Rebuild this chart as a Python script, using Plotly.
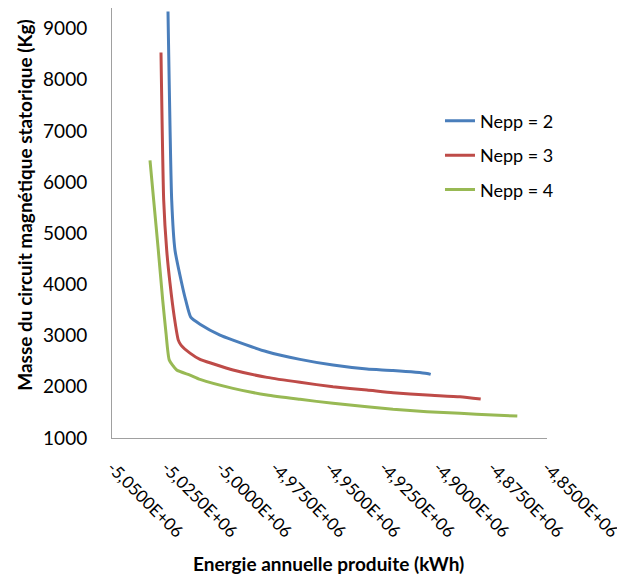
import plotly.graph_objects as go

# Energie annuelle produite (kWh) and mass (Kg) per series
x_nepp2 = [-5024253, -5022552, -5021034, -5017954, -5016115, -5013816, -5009540,
           -5000345, -4994368, -4978736, -4963563, -4948391, -4932759, -4920805,
           -4905172, -4903471]
y_nepp2 = [9332, 5644, 4668, 4024, 3693, 3361, 3224, 3010, 2912, 2684, 2536,
           2424, 2346, 2320, 2262, 2243]

x_nepp3 = [-5027471, -5026230, -5024851, -5023333, -5021356, -5019517, -5018276, -5014138,
           -5009540, -5003563, -4994368, -4978736, -4963563, -4948391, -4932759, -4920805,
           -4905172, -4890000, -4880483]
y_nepp3 = [8532, 5644, 4668, 4024, 3361, 2912, 2815, 2659, 2536, 2450, 2327, 2184, 2087,
           2001, 1937, 1884, 1839, 1806, 1761]

x_nepp4 = [-5032529, -5030828, -5028713, -5026690, -5025172, -5023655, -5020253, -5014138,
           -5009540, -4994368, -4978736, -4963563, -4948391, -4932759, -4920805, -4905172,
           -4890000, -4874828, -4863655]
y_nepp4 = [6424, 5644, 4668, 3693, 3049, 2522, 2327, 2229, 2145, 1970, 1839, 1755, 1677,
           1611, 1560, 1513, 1482, 1449, 1429]

series_names = ["Nepp = 2", "Nepp = 3", "Nepp = 4"]
series_colors = ["#4A7EBB", "#BE4B48", "#98B954"]

x_tick_vals = [-5050000, -5025000, -5000000, -4975000, -4950000, -4925000, -4900000,
               -4875000, -4850000]
x_tick_labels = ["-5,0500E+06", "-5,0250E+06", "-5,0000E+06", "-4,9750E+06", "-4,9500E+06",
                 "-4,9250E+06", "-4,9000E+06", "-4,8750E+06", "-4,8500E+06"]
y_tick_vals = [1000, 2000, 3000, 4000, 5000, 6000, 7000, 8000, 9000]

FONT = "Lato, Carlito, Calibri, sans-serif"

fig = go.Figure()
for xs, ys, name, color in zip([x_nepp2, x_nepp3, x_nepp4], [y_nepp2, y_nepp3, y_nepp4],
                               series_names, series_colors):
    fig.add_trace(go.Scatter(x=xs, y=ys, mode="lines", name=name, legendgroup=name,
                             line=dict(color=color, width=3, shape="spline", smoothing=0.5)))

fig.update_layout(
    width=617, height=571,
    margin=dict(l=104, r=78, t=0, b=141, autoexpand=False),
    paper_bgcolor="white", plot_bgcolor="white",
    font=dict(family=FONT, size=18, color="black"),
    legend=dict(x=0.754, y=0.78, xanchor="left", yanchor="top",
                font=dict(family=FONT, size=18), tracegroupgap=8,
                bgcolor="rgba(0,0,0,0)", itemwidth=30),
    showlegend=True,
    annotations=[
        dict(text="<b>Energie annuelle produite (kWh)</b>", xref="paper", yref="paper",
             x=0.497, y=-0.291, xanchor="center", yanchor="middle", showarrow=False,
             font=dict(family=FONT, size=19)),
        dict(text="<b>Masse du circuit magnétique statorique (Kg)</b>", xref="paper",
             yref="paper", x=-0.2, y=0.54, xanchor="center", yanchor="middle",
             textangle=-90, showarrow=False, font=dict(family=FONT, size=19)),
    ],
)
fig.update_xaxes(range=[-5050000, -4850000], tickvals=x_tick_vals, ticktext=x_tick_labels,
                 tickangle=45, showgrid=False, zeroline=False, showline=True,
                 linecolor="#A0A0A0", linewidth=1, ticks="", automargin=False,
                 ticklabeloverflow="allow",
                 ticklabelstandoff=12, tickfont=dict(family=FONT, size=17))
fig.update_yaxes(range=[1000, 9400], tickvals=y_tick_vals, showgrid=False, zeroline=False,
                 showline=True, linecolor="#A0A0A0", linewidth=1, ticks="", automargin=False,
                 ticklabelstandoff=20, tickfont=dict(family=FONT, size=19))

fig.write_html("out.html")
